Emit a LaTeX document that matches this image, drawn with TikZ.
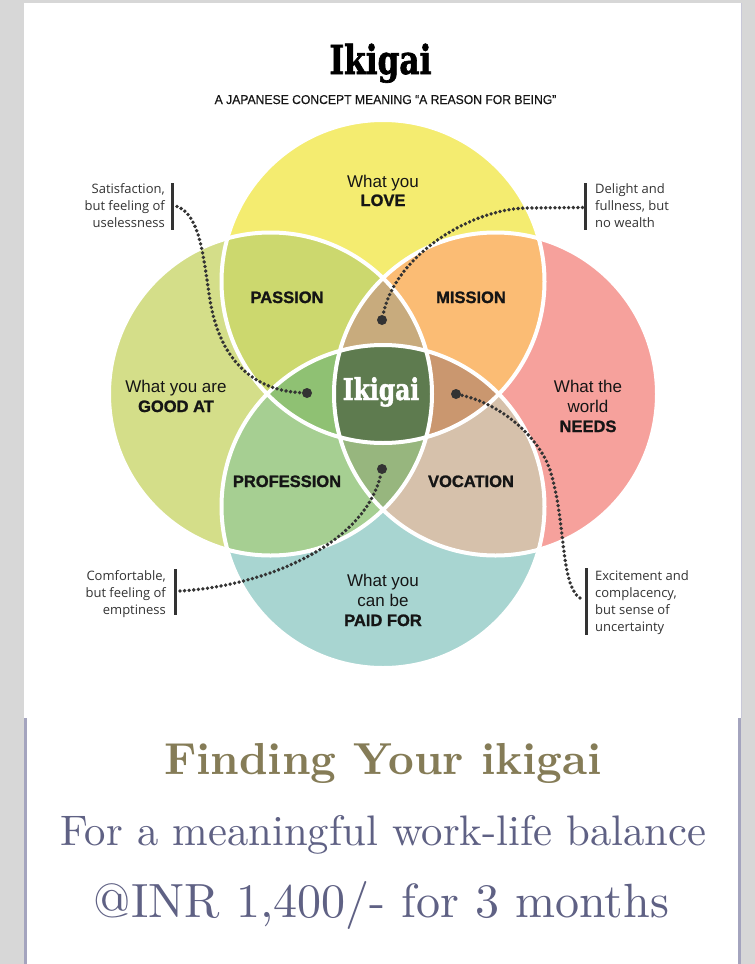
\documentclass[tikz,border=0pt]{standalone}
\usepackage{fontspec}
\usepackage{graphicx}
\newfontfamily\slab[FakeStretch=0.78, BoldFeatures={FakeBold=1.6}]{DejaVu Serif}
\newfontfamily\arial{Liberation Sans}
\newfontfamily\heavy[BoldFeatures={FakeBold=1.3}]{Liberation Sans}
\newfontfamily\narrow[FakeStretch=0.95, FakeBold=0.4]{Liberation Sans}
\newfontfamily\segoe{Open Sans}
\newfontfamily\lmten[BoldFont=lmroman10-bold.otf]{lmroman10-regular.otf}
\definecolor{bggray}{HTML}{D7D7D7}
\definecolor{cLove}{HTML}{F4EC70}
\definecolor{cGood}{HTML}{D4DE89}
\definecolor{cNeeds}{HTML}{F6A19C}
\definecolor{cPaid}{HTML}{A8D5D1}
\definecolor{cPassion}{HTML}{CCD86E}
\definecolor{cMission}{HTML}{FBBC74}
\definecolor{cProf}{HTML}{A6CF92}
\definecolor{cVoc}{HTML}{D6C1AB}
\definecolor{cTopT}{HTML}{C8AB7D}
\definecolor{cLeftT}{HTML}{8FC173}
\definecolor{cRightT}{HTML}{CA976F}
\definecolor{cBotT}{HTML}{97B67E}
\definecolor{cCenter}{HTML}{5E7B4F}
\definecolor{ink}{HTML}{333333}
\definecolor{lbl}{HTML}{151515}
\definecolor{olive}{HTML}{857C57}
\definecolor{slate}{HTML}{5F6184}
\definecolor{panelline}{HTML}{A4A4BE}
\tikzset{
  reg/.style={font=\arial\fontsize{17}{20}\selectfont, text=lbl, inner sep=0pt, anchor=base},
  bld/.style={font=\heavy\bfseries\fontsize{16.5}{20}\selectfont, text=lbl, inner sep=0pt, anchor=base},
  annr/.style={font=\segoe\fontsize{13}{16}\selectfont, text=ink, inner sep=0pt, anchor=base east},
  annl/.style={font=\segoe\fontsize{13}{16}\selectfont, text=ink, inner sep=0pt, anchor=base west},
  bar/.style={ink, line width=2.5pt},
  dotline/.style={ink, line width=3.8pt, line cap=round, dash pattern=on 0pt off 4.6pt},
  enddot/.style={circle, fill=ink, minimum size=10pt, inner sep=0pt},
  ring/.style={white, line width=4pt},
  bottomtext/.style={inner sep=0pt, anchor=base},
}
\begin{document}
\begin{tikzpicture}[x=1pt,y=-1pt]
\useasboundingbox (0,0) rectangle (755,964);
% background and panels
\fill[bggray] (0,0) rectangle (755,964);
\fill[white] (24,3) rectangle (741,718);
\fill[white] (24,718) rectangle (741,964);
\draw[panelline, line width=3pt] (25.5,718) -- (25.5,964);
\draw[panelline, line width=2.5pt] (739.5,718) -- (739.5,964);
\draw[panelline!60, line width=1pt] (741,3) -- (741,718);
% circle centres
\coordinate (T) at (383,281.5);
\coordinate (L) at (270.5,394);
\coordinate (R) at (495.5,394);
\coordinate (B) at (383,506.5);
\def\rr{161.5}
% base circles
\fill[cLove] (T) circle (\rr);
\fill[cGood] (L) circle (\rr);
\fill[cNeeds] (R) circle (\rr);
\fill[cPaid] (B) circle (\rr);
% pair overlaps
\begin{scope}\clip (T) circle (\rr); \fill[cPassion] (L) circle (\rr);\end{scope}
\begin{scope}\clip (T) circle (\rr); \fill[cMission] (R) circle (\rr);\end{scope}
\begin{scope}\clip (B) circle (\rr); \fill[cProf] (L) circle (\rr);\end{scope}
\begin{scope}\clip (B) circle (\rr); \fill[cVoc] (R) circle (\rr);\end{scope}
% triple overlaps
\begin{scope}\clip (T) circle (\rr); \clip (L) circle (\rr); \fill[cTopT] (R) circle (\rr);\end{scope}
\begin{scope}\clip (T) circle (\rr); \clip (L) circle (\rr); \fill[cLeftT] (B) circle (\rr);\end{scope}
\begin{scope}\clip (T) circle (\rr); \clip (R) circle (\rr); \fill[cRightT] (B) circle (\rr);\end{scope}
\begin{scope}\clip (B) circle (\rr); \clip (L) circle (\rr); \fill[cBotT] (R) circle (\rr);\end{scope}
% centre
\begin{scope}\clip (T) circle (\rr); \clip (L) circle (\rr); \clip (R) circle (\rr); \fill[cCenter] (B) circle (\rr);\end{scope}
% white rings
\draw[ring] (T) circle (\rr);
\draw[ring] (L) circle (\rr);
\draw[ring] (R) circle (\rr);
\draw[ring] (B) circle (\rr);
% titles
\node[font=\slab\bfseries\fontsize{40}{44}\selectfont, inner sep=0pt, anchor=base] (title) at (380.5,74) {Ikigai};
\node[font=\narrow\fontsize{12.8}{14}\selectfont, text=lbl, inner sep=0pt, anchor=base] (subtitle) at (385.5,104) {A JAPANESE CONCEPT MEANING “A REASON FOR BEING”};
\node[font=\slab\bfseries\fontsize{30}{34}\selectfont, text=white, inner sep=0pt, anchor=base] (centre) at (381,400) {Ikigai};
% circle labels
\node[reg] (love1) at (383,187) {What you};
\node[bld] (love2) at (383,206) {LOVE};
\node[reg] (good1) at (176,392) {What you are};
\node[bld] (good2) at (176,412) {GOOD AT};
\node[reg] (need1) at (588,392) {What the};
\node[reg] (need2) at (588,412) {world};
\node[bld] (need3) at (588,432) {NEEDS};
\node[reg] (paid1) at (383,586) {What you};
\node[reg] (paid2) at (383,606) {can be};
\node[bld] (paid3) at (383,626) {PAID FOR};
\node[bld] (passion) at (287,303) {PASSION};
\node[bld] (mission) at (471,303) {MISSION};
\node[bld] (profession) at (287,487) {PROFESSION};
\node[bld] (vocation) at (471,487) {VOCATION};
% annotations
\node[annr] (a1a) at (165,193.5) {Satisfaction,};
\node[annr] (a1b) at (165,210.7) {but feeling of};
\node[annr] (a1c) at (165,227.9) {uselessness};
\node[annl] (a2a) at (595,193.5) {Delight and};
\node[annl] (a2b) at (595,210.5) {fullness, but};
\node[annl] (a2c) at (595,227.5) {no wealth};
\node[annr] (a3a) at (166,580) {Comfortable,};
\node[annr] (a3b) at (166,597) {but feeling of};
\node[annr] (a3c) at (166,614) {emptiness};
\node[annl] (a4a) at (595,580.5) {Excitement and};
\node[annl] (a4b) at (595,597.5) {complacency,};
\node[annl] (a4c) at (595,614.5) {but sense of};
\node[annl] (a4d) at (595,631.5) {uncertainty};
% bars
\draw[bar] (172.7,183) -- (172.7,230);
\draw[bar] (585.7,183) -- (585.7,230);
\draw[bar] (175.7,569) -- (175.7,615);
\draw[bar] (586.7,568) -- (586.7,635);
% connectors
\node[enddot] (d1) at (307,393) {};
\node[enddot] (d2) at (382,320) {};
\node[enddot] (d3) at (382,469) {};
\node[enddot] (d4) at (456,394) {};
\coordinate (s1) at (177,206.5);
\coordinate (s2) at (582.5,207.5);
\coordinate (s3) at (180,591);
\coordinate (s4) at (580,598);
\draw[dotline] (s1) .. controls (200,215) and (203,255) .. (210,300) .. controls (218,350) and (245,390) .. (d1);
\draw[dotline] (s2) -- (525,208) .. controls (470,210) and (395,255) .. (d2);
\draw[dotline] (s3) .. controls (265,586) and (365,545) .. (d3);
\draw[dotline] (s4) .. controls (560,585) and (566,520) .. (550,470) .. controls (540,440) and (505,405) .. (d4);
% bottom texts
\node[bottomtext, text=olive] (finding) at (383,774) {\resizebox{438pt}{!}{\lmten\bfseries\fontsize{40}{48}\selectfont Finding Your ikigai}};
\node[bottomtext, text=slate] (forline) at (383.5,845) {\resizebox{646pt}{!}{\lmten\fontsize{40}{48}\selectfont For a meaningful work-life balance}};
\node[bottomtext, text=slate] (price) at (381.5,917) {\resizebox{575pt}{!}{\lmten\fontsize{40}{48}\selectfont @INR 1,400/- for 3 months}};
\end{tikzpicture}
\end{document}
